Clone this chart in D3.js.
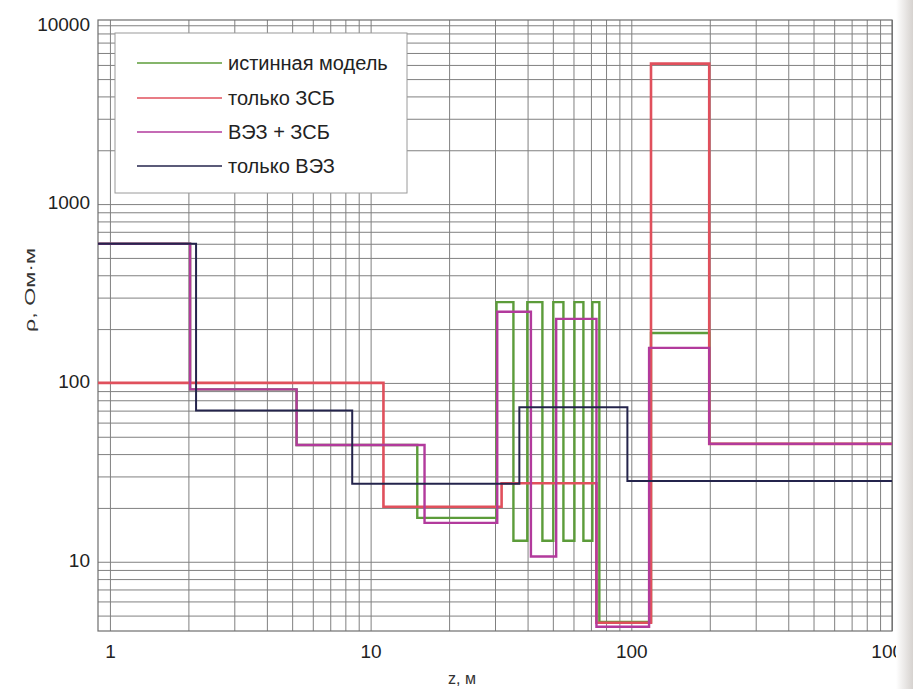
<!DOCTYPE html>
<html>
<head>
<meta charset="utf-8">
<script src="https://cdn.jsdelivr.net/npm/d3@7"></script>
<style>
  body { margin: 0; background: #fff; }
  svg { display: block; font-family: Arial, "Liberation Sans", sans-serif; }
</style>
</head>
<body>
<div id="chart"></div>
<script>
// axis ticks
var zTicks = [1, 10, 100, 1000];
var rhoTicks = [10, 100, 1000, 10000];

// layer boundaries (z, m) and resistivities (Ohm*m) for each curve
var trueBounds = [2.03, 5.2, 15.1, 30.4, 35.3, 39.9, 45.6, 50.2, 54.9, 60.5, 65.5, 70.9, 75.4, 119, 199];
var trueRho    = [600, 92, 45, 17.6, 283, 13.1, 283, 13.1, 283, 13.1, 283, 13.1, 283, 4.6, 190, 45.6];

var temBounds = [11.2, 31.8, 73.5, 119, 199];
var temRho    = [100, 20.3, 27.5, 4.56, 6100, 45.6];

var jointBounds = [2.03, 5.2, 16.1, 30.6, 41.2, 51.5, 73.5, 117, 199];
var jointRho    = [600, 92, 45, 16.5, 250, 10.7, 228, 4.33, 157, 45.6];

var vesBounds = [2.14, 8.5, 37.2, 96.6];
var vesRho    = [600, 70, 27.3, 73, 28.3];

var seriesNames  = ["истинная модель", "только ЗСБ", "ВЭЗ + ЗСБ", "только ВЭЗ"];
var seriesColors = ["#5c9c3a", "#e0505c", "#b23a9c", "#24244c"];

var W = 913, H = 689;
var pl = 98, pr = 892, pt = 20, pb = 631;

var svg = d3.select("#chart").append("svg")
    .attr("width", W)
    .attr("height", H);

var x = d3.scaleLog().domain([0.9, 1000]).range([pl, pr]);
var y = d3.scaleLog().domain([4.1, 10700]).range([pb, pt]);

// grid
var xGrid = x.ticks().filter(function(d) { return d >= 1 && d <= 1000; });
var yGrid = y.ticks().filter(function(d) { return d >= 5 && d <= 10000; });

svg.append("g")
    .attr("transform", "translate(0," + pb + ")")
    .call(d3.axisBottom(x).tickValues(xGrid).tickSize(-(pb - pt)).tickFormat(""))
    .call(function(g) {
        g.select(".domain").remove();
        g.selectAll("line").attr("stroke", "#808080").attr("stroke-width", 1);
    });

svg.append("g")
    .attr("transform", "translate(" + pl + ",0)")
    .call(d3.axisLeft(y).tickValues(yGrid).tickSize(-(pr - pl)).tickFormat(""))
    .call(function(g) {
        g.select(".domain").remove();
        g.selectAll("line").attr("stroke", "#808080").attr("stroke-width", 1);
    });

svg.append("rect")
    .attr("x", pl).attr("y", pt)
    .attr("width", pr - pl).attr("height", pb - pt)
    .attr("fill", "none")
    .attr("stroke", "#6e6e6e")
    .attr("stroke-width", 1.2);

// tick labels
svg.append("g")
    .attr("transform", "translate(0," + pb + ")")
    .call(d3.axisBottom(x).tickValues(zTicks).tickSize(0).tickPadding(14).tickFormat(d3.format("d")))
    .call(function(g) {
        g.select(".domain").remove();
        g.selectAll("text").attr("font-size", 19).attr("fill", "#222").attr("font-family", "Arial, 'Liberation Sans', sans-serif");
    });

svg.append("g")
    .attr("transform", "translate(" + pl + ",0)")
    .call(d3.axisLeft(y).tickValues(rhoTicks).tickSize(0).tickPadding(8).tickFormat(d3.format("d")))
    .call(function(g) {
        g.select(".domain").remove();
        g.selectAll("text").attr("font-size", 19).attr("fill", "#222").attr("font-family", "Arial, 'Liberation Sans', sans-serif")
            .attr("dy", "0.25em");
    });

// axis titles
svg.append("text")
    .attr("transform", "translate(35,290) rotate(-90)")
    .attr("text-anchor", "middle")
    .attr("font-size", 15)
    .attr("fill", "#333")
    .attr("textLength", 84)
    .attr("lengthAdjust", "spacingAndGlyphs")
    .text("ρ, Ом·м");

svg.append("text")
    .attr("x", 462).attr("y", 684)
    .attr("text-anchor", "middle")
    .attr("font-size", 16)
    .attr("fill", "#333")
    .text("z, м");

// curves
function stepPoints(bounds, rho) {
    var pts = [[x.domain()[0], rho[0]]];
    bounds.forEach(function(b, i) { pts.push([b, rho[i + 1]]); });
    pts.push([x.domain()[1], rho[rho.length - 1]]);
    return pts;
}

var line = d3.line()
    .x(function(d) { return x(d[0]); })
    .y(function(d) { return y(d[1]); })
    .curve(d3.curveStepAfter);

var curves = [
    stepPoints(trueBounds, trueRho),
    stepPoints(temBounds, temRho),
    stepPoints(jointBounds, jointRho),
    stepPoints(vesBounds, vesRho)
];
var widths = [2.4, 2.6, 2.4, 2];

svg.append("g").selectAll("path")
    .data(curves)
    .join("path")
    .attr("d", line)
    .attr("fill", "none")
    .attr("stroke", function(d, i) { return seriesColors[i]; })
    .attr("stroke-width", function(d, i) { return widths[i]; });

// legend
var legend = svg.append("g");
legend.append("rect")
    .attr("x", 115).attr("y", 33)
    .attr("width", 292).attr("height", 160)
    .attr("fill", "#fff")
    .attr("stroke", "#9a9a9a")
    .attr("stroke-width", 1);

var legendY = [63, 98, 132, 166];
seriesNames.forEach(function(name, i) {
    legend.append("line")
        .attr("x1", 137).attr("x2", 222)
        .attr("y1", legendY[i]).attr("y2", legendY[i])
        .attr("stroke", seriesColors[i])
        .attr("stroke-width", 1.6);
    legend.append("text")
        .attr("x", 228).attr("y", legendY[i] + 7)
        .attr("font-size", 20)
        .attr("fill", "#222")
        .text(name);
});

// scanned page edge on the right
var grad = svg.append("defs").append("linearGradient").attr("id", "edge");
grad.append("stop").attr("offset", "0%").attr("stop-color", "#fff");
grad.append("stop").attr("offset", "100%").attr("stop-color", "#d6d2cf");
svg.append("rect")
    .attr("x", 896).attr("y", 0)
    .attr("width", 17).attr("height", H)
    .attr("fill", "url(#edge)");
</script>
</body>
</html>
